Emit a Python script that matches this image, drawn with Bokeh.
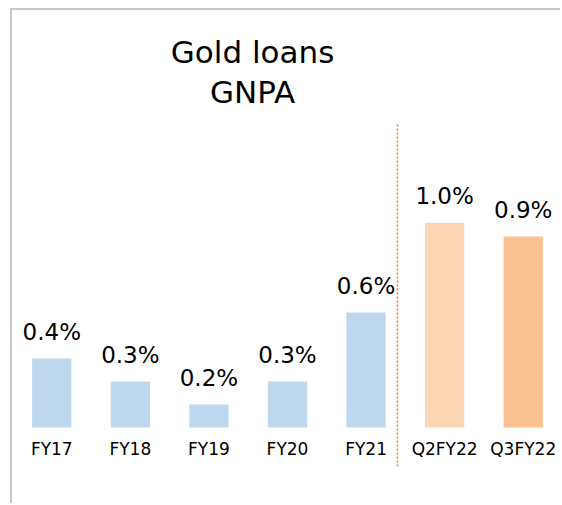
from bokeh.plotting import figure
from bokeh.models import ColumnDataSource, Range1d, FactorRange, Label
from bokeh.core.properties import value
from bokeh.embed import file_html
from bokeh.resources import INLINE

categories = ["FY17", "FY18", "FY19", "FY20", "FY21", "Q2FY22", "Q3FY22"]
gnpa = [0.40, 0.30, 0.20, 0.30, 0.60, 0.99, 0.93]
labels = ["0.4%", "0.3%", "0.2%", "0.3%", "0.6%", "1.0%", "0.9%"]
colors = ["#BDD7EE", "#BDD7EE", "#BDD7EE", "#BDD7EE", "#BDD7EE", "#FCD5B4", "#FAC191"]
title_lines = ["Gold loans", "GNPA"]
divider_after = "FY21"
base = 0.1

src = ColumnDataSource(dict(cat=categories, val=gnpa, lab=labels, col=colors,
                            base=[base] * len(categories)))

p = figure(width=550, height=495, output_backend="svg", toolbar_location=None,
           x_range=FactorRange(factors=categories, range_padding=0),
           y_range=Range1d(-0.2391, 1.913),
           x_axis_location=None, y_axis_location=None,
           min_border_left=0, min_border_right=0, min_border_top=0, min_border_bottom=0)
p.styles = {"border-top": "2px solid #c8c8c8", "border-left": "2px solid #c8c8c8",
            "margin-left": "10px", "margin-top": "8px"}
p.outline_line_color = None
p.grid.visible = False
p.background_fill_color = "white"
p.border_fill_color = "white"

p.vbar(x="cat", top="val", bottom="base", width=0.5, fill_color="col",
       line_color=None, source=src)

p.text(x="cat", y="val", text="lab", source=src, text_align="center",
       text_baseline="alphabetic", y_offset=-27, text_font=value("DejaVu Sans"),
       text_font_size="23px", text_color="#000000")

p.text(x="cat", y="base", text="cat", source=src, text_align="center",
       text_baseline="alphabetic", y_offset=21, text_font=value("DejaVu Sans"),
       text_font_size="17px", text_color="#000000")

p.segment(x0=[(divider_after, 0.4)], x1=[(divider_after, 0.4)], y0=[-0.0696], y1=[1.4217],
          line_color="#ED7D31", line_width=1.5, line_dash="2 2")

for txt, yy in zip(title_lines, [1.7326, 1.5587]):
    p.add_layout(Label(x=3.055, y=yy, text=txt, text_align="center",
                       text_baseline="alphabetic", text_font="DejaVu Sans",
                       text_font_size="31px", text_color="#000000"))

open("out.html", "w").write(file_html(p, INLINE))
